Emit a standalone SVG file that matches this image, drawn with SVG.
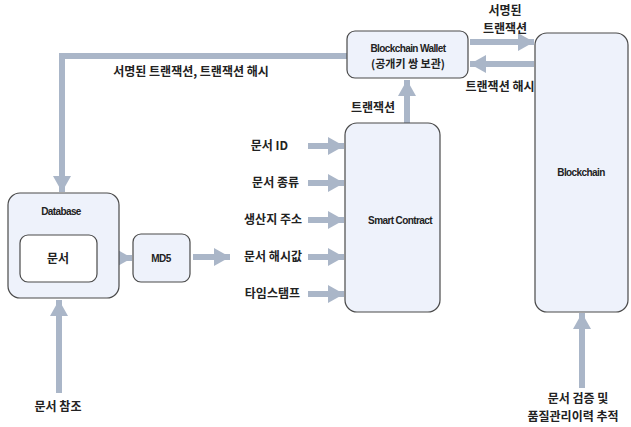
<svg xmlns="http://www.w3.org/2000/svg" width="631" height="427" viewBox="0 0 631 427">
<style>
.box{fill:#eef2fb;stroke:#4a4a4a;stroke-width:1.2}
.inner{fill:#ffffff;stroke:#4a4a4a;stroke-width:1.2}
.arr{fill:none;stroke:#aab6c8;stroke-width:6;marker-end:url(#ah)}
.kt{font-family:"Noto Sans CJK KR","Noto Sans",sans-serif;font-weight:bold;font-size:12px;fill:#222;text-anchor:middle}
.rt{text-anchor:end}
.et{font-family:"Liberation Sans","Noto Sans",sans-serif;font-weight:bold;font-size:10px;fill:#222;text-anchor:middle;letter-spacing:-0.6px}
</style>
<defs>
<marker id="ah" markerUnits="userSpaceOnUse" markerWidth="20" markerHeight="20" refX="16" refY="9" orient="auto">
<path d="M0,0 L16,9 L0,18 Z" fill="#aab6c8"/>
</marker>
</defs>
<g id="connectors">
<path class="arr" d="M347,56 H62 V192"/>
<path class="arr" d="M59,393 V300"/>
<path class="arr" d="M98,258 H132"/>
<path class="arr" d="M193,257 H230"/>
<path class="arr" d="M308,146 H344"/>
<path class="arr" d="M308,183 H344"/>
<path class="arr" d="M308,220 H344"/>
<path class="arr" d="M308,257 H344"/>
<path class="arr" d="M308,294 H344"/>
<path class="arr" d="M407,123 V80"/>
<path class="arr" d="M470,42 H534"/>
<path class="arr" d="M534,64 H470"/>
<path class="arr" d="M582,388 V313"/>
</g>
<g id="database">
<rect class="box" x="8" y="193" width="111" height="105" rx="12"/>
<text class="et" x="61" y="215">Database</text>
</g>
<g id="doc">
<rect class="inner" x="20" y="235" width="77" height="47" rx="8"/>
<text class="kt" x="58" y="263">문서</text>
</g>
<g id="md5">
<rect class="box" x="133" y="234" width="57" height="48" rx="8"/>
<text class="et" x="161" y="262">MD5</text>
</g>
<g id="smartcontract">
<rect class="box" x="345" y="123" width="95" height="189" rx="12"/>
<text class="et" x="400" y="224">Smart Contract</text>
</g>
<g id="wallet">
<rect class="box" x="347" y="31" width="121" height="47" rx="8"/>
<text class="et" x="408" y="52">Blockchain Wallet</text>
<text class="kt" x="408" y="68" style="font-size:11px">(공개키 쌍 보관)</text>
</g>
<g id="blockchain">
<rect class="box" x="535" y="33" width="93" height="279" rx="12"/>
<text class="et" x="581" y="176">Blockchain</text>
</g>
<g id="labels">
<text class="kt" x="191" y="76">서명된 트랜잭션, 트랜잭션 해시</text>
<text class="kt" x="373" y="112">트랜잭션</text>
<text class="kt" x="505" y="15">서명된</text>
<text class="kt" x="505" y="33">트랜잭션</text>
<text class="kt" x="500" y="91">트랜잭션 해시</text>
<text class="kt rt" x="288" y="150">문서 ID</text>
<text class="kt rt" x="299" y="187">문서 종류</text>
<text class="kt rt" x="302" y="224">생산지 주소</text>
<text class="kt rt" x="302" y="261">문서 해시값</text>
<text class="kt rt" x="300" y="298">타임스탬프</text>
<text class="kt" x="58" y="411">문서 참조</text>
<text class="kt" x="578" y="403">문서 검증 및</text>
<text class="kt" x="573" y="421">품질관리이력 추적</text>
</g>
</svg>
